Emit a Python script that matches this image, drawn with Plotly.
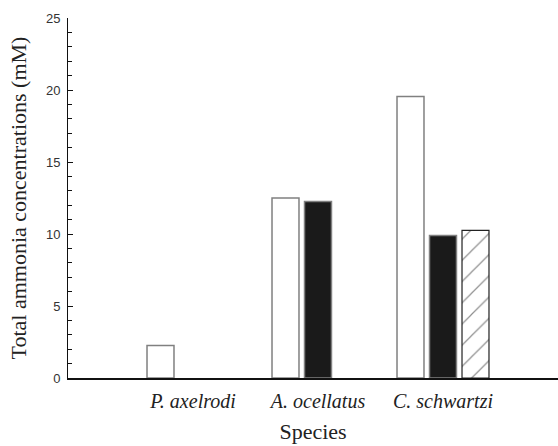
import plotly.graph_objects as go

species = ["P. axelrodi", "A. ocellatus", "C. schwartzi"]
white_vals = [2.25, 12.5, 19.55]
black_vals = [None, 12.25, 9.9]
hatch_vals = [None, None, 10.25]

SERIF = "Liberation Serif, Times New Roman, serif"

fig = go.Figure()
fig.add_trace(go.Bar(x=species, y=white_vals, name="white",
                     marker=dict(color="white", line=dict(color="#808080", width=1.5))))
fig.add_trace(go.Bar(x=species, y=black_vals, name="black",
                     marker=dict(color="#1a1a1a", line=dict(color="#808080", width=1.5))))
fig.add_trace(go.Bar(x=species, y=hatch_vals, name="hatched",
                     marker=dict(color="white", line=dict(color="#222", width=1.2),
                                 pattern=dict(shape="/", fgcolor="#222", bgcolor="white",
                                              size=15, solidity=0.08))))

fig.update_layout(
    width=558, height=446,
    margin=dict(l=68, r=0, t=18, b=68),
    barmode="group", bargap=0.22, bargroupgap=0.17,
    plot_bgcolor="white", paper_bgcolor="white",
    showlegend=False,
    xaxis=dict(
        type="category", range=[-1.0, 2.92],
        showline=True, linecolor="#111", linewidth=1.5,
        showgrid=False, ticks="", zeroline=False,
        tickvals=species, ticktext=["<i>" + s + "</i>" for s in species],
        tickfont=dict(family=SERIF, size=20, color="#222"),
        ticklabelstandoff=4,
        title=dict(text="Species", font=dict(family=SERIF, size=22, color="#222"),
                   standoff=13),
    ),
    yaxis=dict(
        range=[0, 25], tick0=0, dtick=5,
        showline=True, linecolor="#111", linewidth=1,
        showgrid=False, zeroline=False,
        ticks="inside", ticklen=5, tickcolor="#111",
        minor=dict(dtick=1, ticks="inside", ticklen=4, tickcolor="#111"),
        tickfont=dict(family="Liberation Sans, Arial, sans-serif", size=13, color="#333"),
        ticklabelstandoff=4,
        title=dict(text="Total ammonia concentrations (mM)",
                   font=dict(family=SERIF, size=22, color="#222"),
                   standoff=13),
    ),
)

fig.write_html("out.html")
